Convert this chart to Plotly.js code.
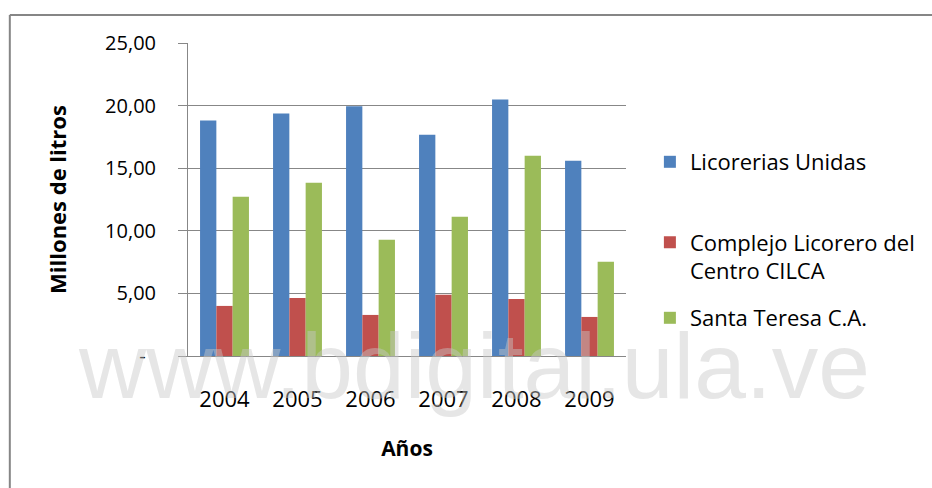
<!DOCTYPE html>
<html>
<head>
<meta charset="utf-8">
<script src="https://cdn.plot.ly/plotly-3.0.1.min.js"></script>
<style>
html,body{margin:0;padding:0;background:#fff;}
#chart{width:932px;height:488px;}
</style>
</head>
<body>
<div id="chart"></div>
<script>
var years = ['2004', '2005', '2006', '2007', '2008', '2009'];
var licoreriasUnidas = [18.80, 19.36, 19.95, 17.68, 20.48, 15.60];
var complejoCILCA = [4.00, 4.64, 3.28, 4.90, 4.56, 3.12];
var santaTeresa = [12.72, 13.84, 9.28, 11.12, 16.00, 7.52];
var seriesNames = ['Licorerias Unidas', 'Complejo Licorero del<br>Centro CILCA', 'Santa Teresa C.A.'];
var yTickVals = [0, 5, 10, 15, 20, 25];
var yTickText = ['-\u00a0\u00a0', '5,00', '10,00', '15,00', '20,00', '25,00'];

var colors = ['#4F81BD', '#C0504D', '#9BBB59'];
var gridColor = '#878787';
var txtFont = 'Open Sans, Lato, sans-serif';

var traces = [
  {type: 'bar', x: years, y: licoreriasUnidas, name: seriesNames[0], marker: {color: colors[0]}, legend: 'legend'},
  {type: 'bar', x: years, y: complejoCILCA, name: seriesNames[1], marker: {color: colors[1]}, legend: 'legend2'},
  {type: 'bar', x: years, y: santaTeresa, name: seriesNames[2], marker: {color: colors[2]}, legend: 'legend3'}
];

var L = 188, R = 628, T = 43, B = 356, W = 932, H = 488;
function px(x){ return (x - L) / (R - L); }
function py(y){ return (B - y) / (B - T); }

var legendFont = {family: txtFont, size: 22, color: '#000'};
function legendAt(yc){
  return {x: px(652), xanchor: 'left', y: py(yc), yanchor: 'middle', font: legendFont,
          bgcolor: 'rgba(0,0,0,0)', valign: 'top', itemclick: false};
}

var layout = {
  width: W, height: H,
  margin: {l: L, r: W - R, t: T, b: H - B, pad: 0},
  paper_bgcolor: '#fff', plot_bgcolor: 'rgba(0,0,0,0)',
  barmode: 'group', bargap: 0.33, bargroupgap: 0,
  showlegend: true,
  legend: legendAt(162),
  legend2: legendAt(257),
  legend3: legendAt(318),
  xaxis: {
    type: 'category', showgrid: false, zeroline: false,
    showline: true, linecolor: gridColor, linewidth: 1,
    ticks: '', ticklabelstandoff: 24,
    tickfont: {family: txtFont, size: 22, color: '#000'},
    title: {text: '<b>Años</b>', font: {family: txtFont, size: 21, color: '#000'}, standoff: 28}
  },
  yaxis: {
    range: [0, 25], tickvals: yTickVals, ticktext: yTickText,
    showgrid: true, gridcolor: gridColor, gridwidth: 1, zeroline: false,
    showline: true, linecolor: gridColor, linewidth: 1,
    ticks: 'outside', ticklen: 9, tickcolor: gridColor, ticklabelstandoff: 18,
    tickfont: {family: txtFont, size: 20, color: '#000'},
    title: {text: '<b>Millones de litros</b>', font: {family: txtFont, size: 22, color: '#000'}, standoff: 32}
  },
  shapes: [
    {type: 'line', xref: 'paper', yref: 'paper', x0: px(9), x1: px(9), y0: py(15), y1: py(H + 5), line: {color: '#868686', width: 2}},
    {type: 'line', xref: 'paper', yref: 'paper', x0: px(9), x1: px(W + 5), y0: py(15), y1: py(15), line: {color: '#868686', width: 2}}
  ],
  annotations: [
    {text: 'www.bdigital.ula.ve', xref: 'paper', yref: 'paper', x: px(475), y: py(366), xanchor: 'center', yanchor: 'middle',
     showarrow: false, font: {family: 'Liberation Sans, Arial, sans-serif', size: 93, color: 'rgba(200,200,200,0.45)'}}
  ]
};

Plotly.newPlot('chart', traces, layout, {displayModeBar: false, staticPlot: true});
</script>
</body>
</html>
